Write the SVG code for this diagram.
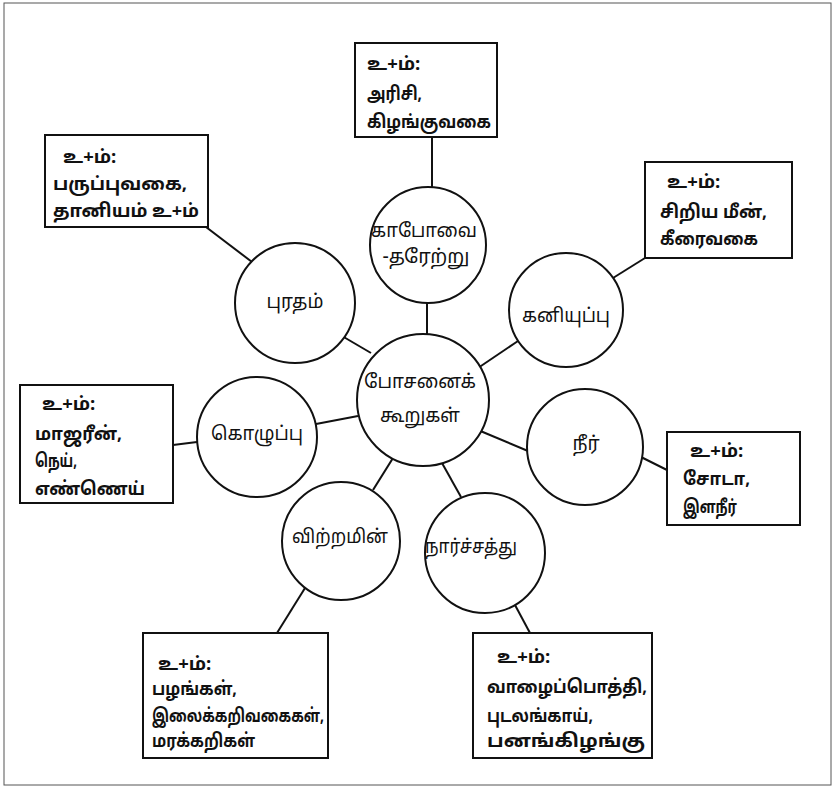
<svg xmlns="http://www.w3.org/2000/svg" width="836" height="789" viewBox="0 0 836 789">
<style>
.frame{fill:none;stroke:#555;stroke-width:1}
.node circle{fill:#fff;stroke:#111;stroke-width:2}
.box rect{fill:#fff;stroke:#111;stroke-width:2}
.links line{stroke:#111;stroke-width:2}
text{font-family:"Noto Sans Tamil","Lohit Tamil","Noto Sans","DejaVu Sans",sans-serif;fill:#111;dominant-baseline:central}
.cl{font-size:19px;text-anchor:middle}
.bl{font-size:18.5px;font-weight:bold}
</style>
<rect class="frame" x="4" y="3" width="827" height="782"/>
<g id="connectors" class="links">
<line x1="427" y1="303" x2="427" y2="334"/>
<line x1="342" y1="336" x2="371" y2="353"/>
<line x1="478" y1="368" x2="518" y2="341"/>
<line x1="316" y1="424" x2="358" y2="416"/>
<line x1="478" y1="430" x2="528" y2="451"/>
<line x1="373" y1="490" x2="393" y2="458"/>
<line x1="442" y1="463" x2="461" y2="497"/>
<line x1="432" y1="137" x2="432" y2="187"/>
<line x1="206" y1="227" x2="252" y2="262"/>
<line x1="613" y1="278" x2="645" y2="258"/>
<line x1="173" y1="445" x2="197" y2="442"/>
<line x1="641" y1="457" x2="667" y2="470"/>
<line x1="305" y1="588" x2="277" y2="633"/>
<line x1="515" y1="605" x2="530" y2="633"/>
</g>
<g id="center" class="node"><circle cx="423" cy="400" r="66"/><text class="cl" x="420" y="383" textLength="112" lengthAdjust="spacingAndGlyphs">போசனைக்</text><text class="cl" x="420" y="417" textLength="80" lengthAdjust="spacingAndGlyphs">கூறுகள்</text></g>
<g id="carb" class="node"><circle cx="428" cy="245" r="58"/><text class="cl" x="424" y="232" textLength="106" lengthAdjust="spacingAndGlyphs">காபோவை</text><text class="cl" x="426" y="258" textLength="87" lengthAdjust="spacingAndGlyphs">-தரேற்று</text></g>
<g id="protein" class="node"><circle cx="295" cy="303" r="60"/><text class="cl" x="295" y="303" textLength="57" lengthAdjust="spacingAndGlyphs">புரதம்</text></g>
<g id="mineral" class="node"><circle cx="566" cy="310" r="57"/><text class="cl" x="566" y="317" textLength="88" lengthAdjust="spacingAndGlyphs">கனியுப்பு</text></g>
<g id="fat" class="node"><circle cx="257" cy="437" r="60"/><text class="cl" x="257" y="435" textLength="92" lengthAdjust="spacingAndGlyphs">கொழுப்பு</text></g>
<g id="water" class="node"><circle cx="585" cy="447" r="58"/><text class="cl" x="586" y="445">நீர்</text></g>
<g id="vitamin" class="node"><circle cx="341" cy="541" r="59"/><text class="cl" x="340" y="538" textLength="96" lengthAdjust="spacingAndGlyphs">விற்றமின்</text></g>
<g id="fibre" class="node"><circle cx="485" cy="553" r="60"/><text class="cl" x="471" y="548" textLength="92" lengthAdjust="spacingAndGlyphs">நார்ச்சத்து</text></g>
<g id="box-carb" class="box"><rect x="355" y="43" width="142" height="94"/><text class="bl" x="367" y="65">உ+ம்:</text><text class="bl" x="367" y="95" textLength="55" lengthAdjust="spacingAndGlyphs">அரிசி,</text><text class="bl" x="367" y="123" textLength="124" lengthAdjust="spacingAndGlyphs">கிழங்குவகை</text></g>
<g id="box-protein" class="box"><rect x="45" y="135" width="163" height="92"/><text class="bl" x="63" y="158">உ+ம்:</text><text class="bl" x="53" y="185" textLength="134" lengthAdjust="spacingAndGlyphs">பருப்புவகை,</text><text class="bl" x="53" y="212" textLength="146" lengthAdjust="spacingAndGlyphs">தானியம் உ+ம்</text></g>
<g id="box-mineral" class="box"><rect x="645" y="162" width="147" height="96"/><text class="bl" x="667" y="183">உ+ம்:</text><text class="bl" x="660" y="213" textLength="107" lengthAdjust="spacingAndGlyphs">சிறிய மீன்,</text><text class="bl" x="660" y="240" textLength="98" lengthAdjust="spacingAndGlyphs">கீரைவகை</text></g>
<g id="box-fat" class="box"><rect x="20" y="385" width="153" height="118"/><text class="bl" x="42" y="405">உ+ம்:</text><text class="bl" x="35" y="435" textLength="87" lengthAdjust="spacingAndGlyphs">மாஜரீன்,</text><text class="bl" x="35" y="462" textLength="42" lengthAdjust="spacingAndGlyphs">நெய்,</text><text class="bl" x="35" y="490" textLength="110" lengthAdjust="spacingAndGlyphs">எண்ணெய்</text></g>
<g id="box-water" class="box"><rect x="667" y="432" width="133" height="93"/><text class="bl" x="690" y="452">உ+ம்:</text><text class="bl" x="683" y="480" textLength="67" lengthAdjust="spacingAndGlyphs">சோடா,</text><text class="bl" x="683" y="508" textLength="54" lengthAdjust="spacingAndGlyphs">இளநீர்</text></g>
<g id="box-vitamin" class="box"><rect x="143" y="633" width="185" height="125"/><text class="bl" x="158" y="665">உ+ம்:</text><text class="bl" x="152" y="690" textLength="85" lengthAdjust="spacingAndGlyphs">பழங்கள்,</text><text class="bl" x="152" y="717" textLength="172" lengthAdjust="spacingAndGlyphs">இலைக்கறிவகைகள்,</text><text class="bl" x="152" y="742" textLength="103" lengthAdjust="spacingAndGlyphs">மரக்கறிகள்</text></g>
<g id="box-fibre" class="box"><rect x="473" y="633" width="179" height="125"/><text class="bl" x="497" y="658">உ+ம்:</text><text class="bl" x="487" y="688" textLength="160" lengthAdjust="spacingAndGlyphs">வாழைப்பொத்தி,</text><text class="bl" x="487" y="717" textLength="106" lengthAdjust="spacingAndGlyphs">புடலங்காய்,</text><text class="bl" x="487" y="742" textLength="158" lengthAdjust="spacingAndGlyphs">பனங்கிழங்கு</text></g>
</svg>
